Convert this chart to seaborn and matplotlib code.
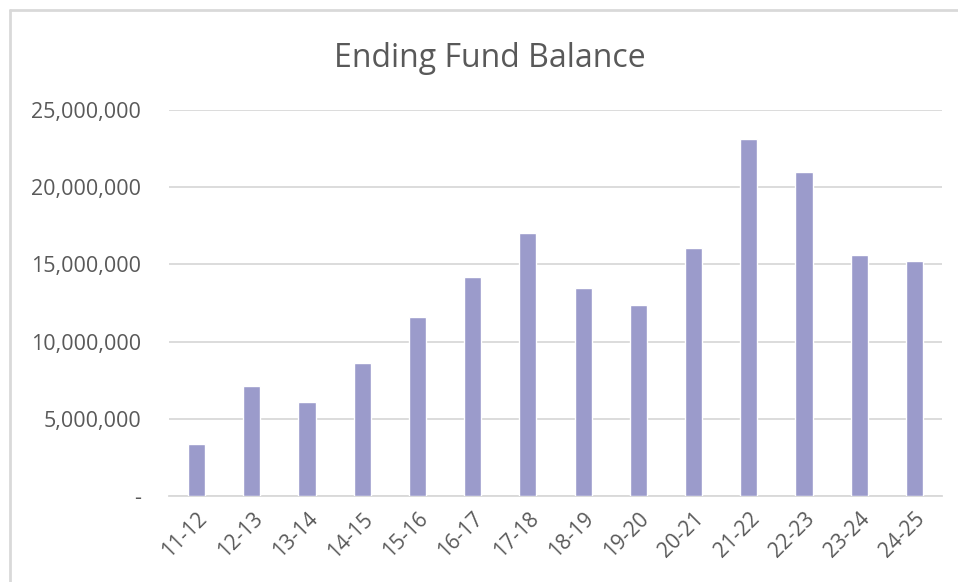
import matplotlib
matplotlib.use("Agg")
import matplotlib.pyplot as plt
import matplotlib.ticker as mticker
from matplotlib.lines import Line2D
import pandas as pd
import seaborn as sns

# Data
fiscal_years = ["11-12", "12-13", "13-14", "14-15", "15-16", "16-17", "17-18",
                "18-19", "19-20", "20-21", "21-22", "22-23", "23-24", "24-25"]
ending_balance = [3350000, 7100000, 6090000, 8600000, 11570000, 14160000, 17050000,
                  13490000, 12390000, 16060000, 23100000, 20980000, 15590000, 15240000]
y_ticks = [0, 5000000, 10000000, 15000000, 20000000, 25000000]

df = pd.DataFrame({"year": fiscal_years, "balance": ending_balance})

sns.set_theme(style="white")
plt.rcParams["font.family"] = ["Open Sans", "DejaVu Sans"]

text_color = "#595959"
grid_color = "#d9d9d9"
bar_color = "#9b9bcb"

fig = plt.figure(figsize=(9.58, 5.82), dpi=100)
ax = fig.add_axes([0.1764, 0.1478, 0.8069, 0.6632])

sns.barplot(data=df, x="year", y="balance", color=bar_color, width=0.31,
            saturation=1, ax=ax, zorder=3)

ax.set_ylim(0, 25000000)
ax.set_xlim(-0.5, len(fiscal_years) - 0.5)
ax.set_yticks(y_ticks)
ax.yaxis.set_major_formatter(mticker.FuncFormatter(
    lambda v, _: "-" if v == 0 else f"{int(v):,}"))
ax.grid(axis="y", color=grid_color, linewidth=1.3, zorder=0)
ax.grid(axis="x", visible=False)

for side in ["top", "right", "left"]:
    ax.spines[side].set_visible(False)
ax.spines["bottom"].set_color(grid_color)
ax.spines["bottom"].set_linewidth(1.3)

ax.tick_params(axis="both", length=0, colors=text_color)
ax.tick_params(axis="y", pad=20, labelsize=15.5)
ax.tick_params(axis="x", pad=9, labelsize=15)
for lbl in ax.get_xticklabels():
    lbl.set_rotation(45)
    lbl.set_ha("right")
    lbl.set_rotation_mode("anchor")

ax.set_xlabel("")
ax.set_ylabel("")

fig.text(0.511, 0.899, "Ending Fund Balance", ha="center", va="center",
         fontsize=23, color=text_color)

# chart border (left and top edges visible in the reference)
fig.add_artist(Line2D([0.0105, 0.0105], [0, 0.982], color="#d9d9d9", linewidth=2,
                      transform=fig.transFigure))
fig.add_artist(Line2D([0.0105, 1.0], [0.982, 0.982], color="#d9d9d9", linewidth=2,
                      transform=fig.transFigure))

fig.savefig("out.png", dpi=100)
